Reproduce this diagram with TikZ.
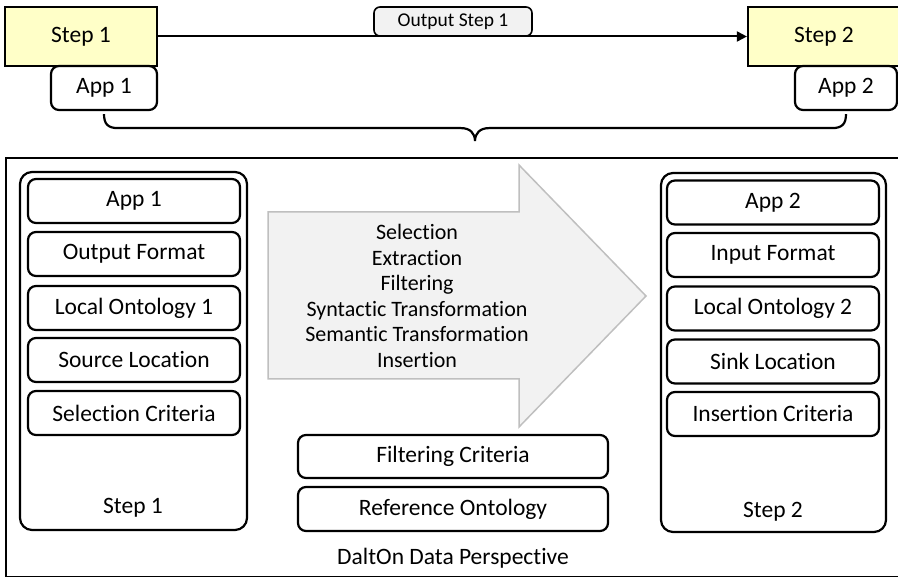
\documentclass[tikz,border=0pt]{standalone}
\usepackage{fontspec}
\setmainfont{Carlito}[Ligatures=NoCommon]
\usetikzlibrary{arrows.meta,calc}

\definecolor{stepfill}{RGB}{255,255,200}
\definecolor{labelfill}{RGB}{242,242,242}
\definecolor{arrowfill}{RGB}{242,242,242}
\definecolor{arrowline}{RGB}{191,191,191}

\tikzset{
  stepbox/.style={draw=black, line width=2.2pt, fill=stepfill, minimum height=59pt,
    font=\fontsize{23.5}{28}\selectfont, inner sep=0pt},
  appbox/.style={draw=black, line width=2.2pt, fill=white, rounded corners=8pt,
    minimum height=44pt, font=\fontsize{23.5}{28}\selectfont, inner sep=0pt},
  itembox/.style={draw=black, line width=2.2pt, rounded corners=8pt,
    minimum width=212pt, minimum height=44pt, font=\fontsize{23.5}{28}\selectfont, inner sep=0pt},
  column/.style={draw=black, line width=2.2pt, rounded corners=12pt, inner sep=0pt},
  flowlabel/.style={draw=black, line width=1.6pt, fill=labelfill, rounded corners=6pt,
    minimum width=158pt, minimum height=29pt, font=\fontsize{19.5}{23}\selectfont, inner sep=0pt},
  plaintext/.style={font=\fontsize{23.5}{28}\selectfont, inner sep=0pt},
  opstext/.style={font=\fontsize{22}{25.6}\selectfont, align=center, inner sep=0pt},
  flow/.style={line width=2pt, -{Triangle[length=10pt,width=10pt]}},
  brace/.style={line width=2.2pt},
}

\begin{document}
\begin{tikzpicture}[x=1pt,y=-1pt]
\useasboundingbox (0,0) rectangle (898,577);
\clip (0,0) rectangle (898,577);

% workflow steps
\node[stepbox, minimum width=152pt] (s1) at (81,36.5) {Step 1};
\node[stepbox, minimum width=152pt] (s2) at (824,36.5) {Step 2};
\node[appbox, minimum width=106pt] (a1) at (104,88) {App 1};
\node[appbox, minimum width=102pt] (a2) at (846,88) {App 2};

% data passed between the steps
\draw[flow] (s1.east) -- (s2.west);
\node[flowlabel] (out) at (453,21.5) {Output Step 1};

% brace grouping the two applications
\coordinate (bl) at ($(a1.south)+(0,3)$);
\coordinate (br) at ($(a2.south)+(0,3)$);
\coordinate (bm) at ($(bl)!0.5!(br)+(0,27)$);
\draw[brace] (bl) .. controls ($(bl)+(0,10)$) and ($(bl)+(4,14)$) .. ($(bl)+(14,14)$)
  -- ($(bm)+(-14,-13)$) .. controls ($(bm)+(-5,-13)$) and ($(bm)+(0,-8)$) .. (bm)
  .. controls ($(bm)+(0,-8)$) and ($(bm)+(5,-13)$) .. ($(bm)+(14,-13)$)
  -- ($(br)+(-14,14)$) .. controls ($(br)+(-4,14)$) and ($(br)+(0,10)$) .. (br);

% data perspective frame
\node[draw=black, line width=2pt, minimum width=900pt, minimum height=419pt,
  anchor=north west, inner sep=0pt] (frame) at (5,157) {};
\node[plaintext] (title) at (453,558) {DaltOn Data Perspective};

% operations arrow
\draw[draw=arrowline, fill=arrowfill, line width=1.5pt, line join=miter]
  (268,212) -- (519,212) -- (519,165) -- (646,296) -- (519,427) -- (519,379) -- (268,379) -- cycle;
\node[opstext] (ops) at (417,296) {Selection\\Extraction\\Filtering\\Syntactic Transformation\\Semantic Transformation\\Insertion};

% source step
\node[column, minimum width=227pt, minimum height=358pt] (c1) at (133.5,351) {};
\node[itembox] (l1) at (134,201) {App 1};
\node[itembox] (l2) at (134,254) {Output Format};
\node[itembox] (l3) at (134,308) {Local Ontology 1};
\node[itembox] (l4) at (134,360) {Source Location};
\node[itembox] (l5) at (134,413) {Selection Criteria};
\node[plaintext] (c1t) at (133,508) {Step 1};

% sink step
\node[column, minimum width=225pt, minimum height=359pt] (c2) at (773.5,352.5) {};
\node[itembox] (r1) at (773,202.5) {App 2};
\node[itembox] (r2) at (773,255) {Input Format};
\node[itembox] (r3) at (773,308.5) {Local Ontology 2};
\node[itembox] (r4) at (773,361.5) {Sink Location};
\node[itembox] (r5) at (773,414) {Insertion Criteria};
\node[plaintext] (c2t) at (773,512) {Step 2};

% shared criteria
\node[itembox, minimum width=310pt, minimum height=43pt] (fc) at (453,456.5) {Filtering Criteria};
\node[itembox, minimum width=310pt] (ro) at (453,509) {Reference Ontology};
\end{tikzpicture}
\end{document}
